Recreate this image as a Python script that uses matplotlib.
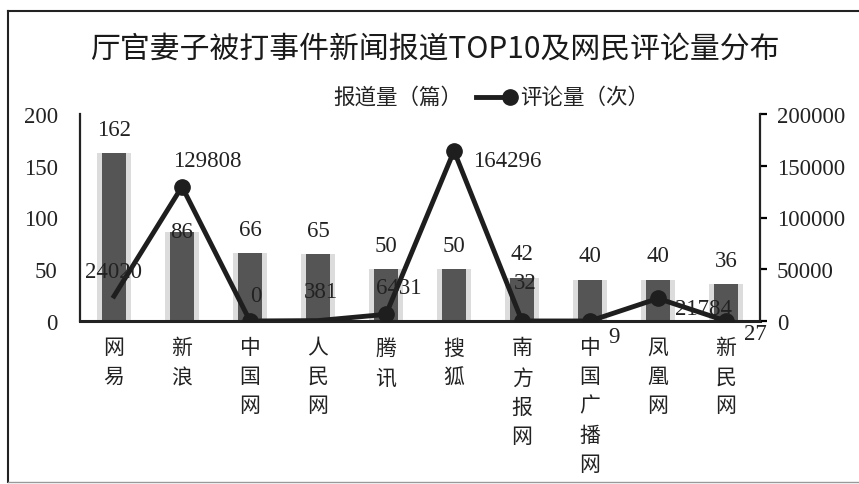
import matplotlib.pyplot as plt
from matplotlib.lines import Line2D

plt.rcParams['font.family'] = ['Liberation Serif', 'Noto Sans CJK SC']
plt.rcParams['axes.unicode_minus'] = False

# data
sites = ['网易', '新浪', '中国网', '人民网', '腾讯', '搜狐', '南方报网', '中国广播网', '凤凰网', '新民网']
reports = [162, 86, 66, 65, 50, 50, 42, 40, 40, 36]
comments = [24020, 129808, 0, 381, 6431, 164296, 32, 9, 21784, 27]
left_ticks = [0, 50, 100, 150, 200]
right_ticks = [0, 50000, 100000, 150000, 200000]

# label placement (points) for the comment numbers
comment_offsets = [(0, 18), (18, 19), (4, 18), (2, 21), (9, 19),
                   (14, -7), (2, 28), (17, -11), (12, -7), (13, -9)]
comment_ha = ['center', 'center', 'center', 'center', 'center',
              'left', 'center', 'center', 'left', 'left']
report_offsets = [17, 0, 17, 17, 17, 17, 17, 17, 17, 17]
# the reference shows no dot on the first and fourth point
marker_idx = [1, 2, 4, 5, 6, 7, 8, 9]

fig = plt.figure(figsize=(8.59, 4.85), dpi=100)
ax = fig.add_axes([80 / 859, 163 / 485, 680 / 859, 207 / 485])
ax2 = ax.twinx()

x = list(range(len(sites)))
ax.bar(x, reports, width=0.5, color='#dcdcdc', zorder=1)
ax.bar(x, reports, width=0.35, color='#555555', zorder=2)
for i, v in enumerate(reports):
    ax.annotate(str(v), (i, v), xytext=(0, report_offsets[i]), textcoords='offset points',
                ha='center', va='center', fontsize=16.5, color='#222222', zorder=5)

ax.set_xlim(-0.5, len(sites) - 0.5)
ax.set_ylim(0, 200)
ax.set_yticks(left_ticks)
ax.tick_params(axis='y', length=0, pad=16, labelsize=16.5, labelcolor='#222222')
ax.set_xticks(x)
ax.set_xticklabels(['\n'.join(s) for s in sites], fontsize=15, linespacing=1.7,
                   va='top', color='#222222')
ax.tick_params(axis='x', length=0, pad=13)
for side in ['top', 'right']:
    ax.spines[side].set_visible(False)
ax.spines['left'].set_linewidth(1.6)
ax.spines['bottom'].set_linewidth(2.2)
ax.spines['left'].set_color('#222222')
ax.spines['bottom'].set_color('#222222')

ax2.plot(x, comments, color='#1e1e1e', lw=3.5, marker='o', markersize=11,
         markevery=marker_idx, zorder=4)
for i, v in enumerate(comments):
    ax2.annotate(str(v), (i, v), xytext=comment_offsets[i], textcoords='offset points',
                 ha=comment_ha[i], va='center', fontsize=16.5, color='#222222', zorder=6)
ax2.set_ylim(0, 200000)
ax2.set_yticks(right_ticks)
ax2.tick_params(axis='y', length=5, width=1.6, pad=7, labelsize=16.5, labelcolor='#222222')
for side in ['top', 'left', 'bottom']:
    ax2.spines[side].set_visible(False)
ax2.spines['right'].set_linewidth(1.6)
ax2.spines['right'].set_color('#222222')

# title and hand-built legend
fig.text(435 / 859, 1 - 49 / 485, '厅官妻子被打事件新闻报道TOP10及网民评论量分布',
         ha='center', va='center', fontsize=21.5, family='Noto Sans CJK SC',
         weight='medium', color='#1a1a1a')
fig.text(462 / 859, 1 - 98 / 485, '报道量（篇）', ha='right', va='center',
         fontsize=15.5, family='Noto Sans CJK SC', color='#222222')
fig.add_artist(Line2D([476 / 859, 510 / 859], [1 - 98 / 485] * 2, color='#1e1e1e',
                      lw=3.5, transform=fig.transFigure))
fig.add_artist(Line2D([510 / 859], [1 - 98 / 485], color='#1e1e1e', marker='o',
                      markersize=11, transform=fig.transFigure))
fig.text(520 / 859, 1 - 98 / 485, '评论量（次）', ha='left', va='center',
         fontsize=15.5, family='Noto Sans CJK SC', color='#222222')

# frame around the chart (no right edge)
fig.add_artist(Line2D([8 / 859, 8 / 859], [2 / 485, 1 - 12 / 485], color='#222222',
                      lw=1.5, transform=fig.transFigure))
fig.add_artist(Line2D([8 / 859, 1], [1 - 12 / 485] * 2, color='#222222',
                      lw=1.5, transform=fig.transFigure))
fig.add_artist(Line2D([8 / 859, 1], [2 / 485] * 2, color='#999999',
                      lw=1.0, transform=fig.transFigure))

fig.savefig('out.png', dpi=100)
